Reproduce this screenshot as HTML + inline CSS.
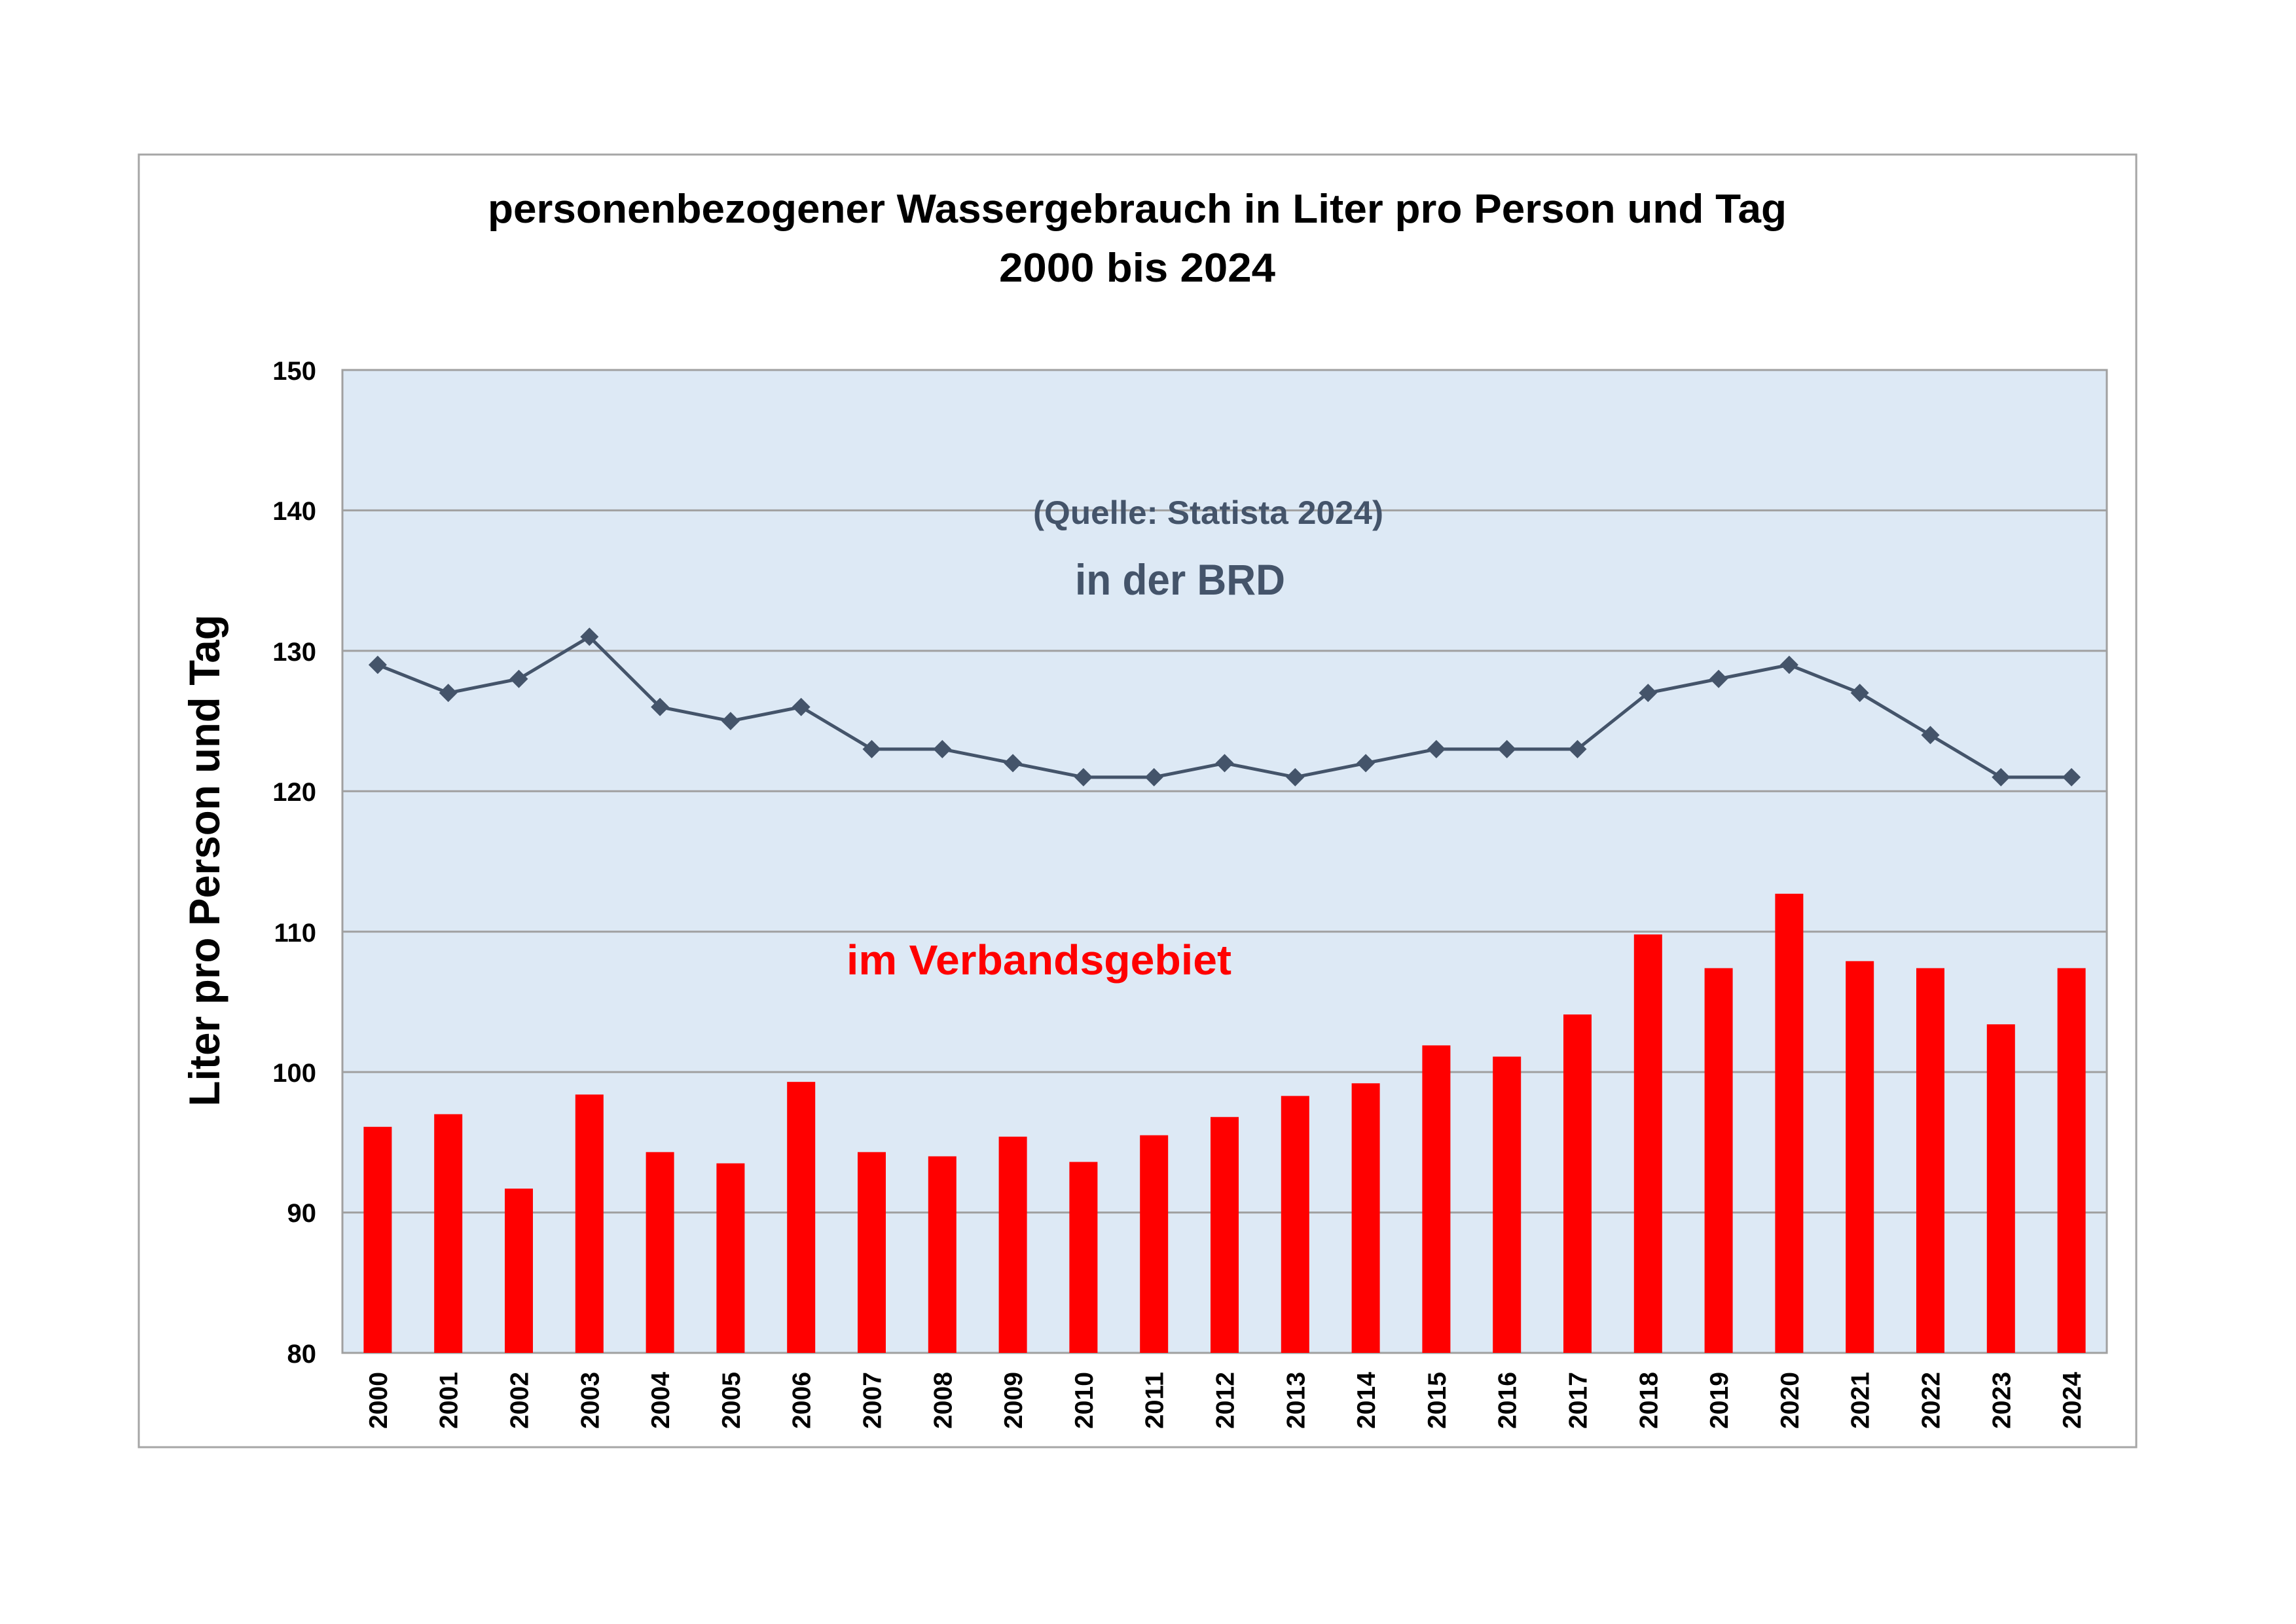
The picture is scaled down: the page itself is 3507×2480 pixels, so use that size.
<!DOCTYPE html>
<html><head><meta charset="utf-8"><style>
html,body{margin:0;padding:0;background:#fff;}
svg{display:block;}
text{font-family:"Liberation Sans",sans-serif;font-weight:bold;}
</style></head><body>
<svg width="3507" height="2480" viewBox="0 0 3507 2480" xmlns="http://www.w3.org/2000/svg">
<rect x="212" y="236" width="3051" height="1974" fill="#fff" stroke="#a6a6a6" stroke-width="3"/>
<text x="1737" y="340" font-size="62" text-anchor="middle" textLength="1984" lengthAdjust="spacingAndGlyphs">personenbezogener Wassergebrauch in Liter pro Person und Tag</text>
<text x="1737" y="430" font-size="62" text-anchor="middle" textLength="422" lengthAdjust="spacingAndGlyphs">2000 bis 2024</text>
<rect x="523" y="565" width="2695" height="1501" fill="#dde9f5" stroke="#a0a0a0" stroke-width="3"/>
<g stroke="#a0a0a0" stroke-width="3">
<line x1="523" x2="3218" y1="1851.6" y2="1851.6"/>
<line x1="523" x2="3218" y1="1637.1" y2="1637.1"/>
<line x1="523" x2="3218" y1="1422.7" y2="1422.7"/>
<line x1="523" x2="3218" y1="1208.3" y2="1208.3"/>
<line x1="523" x2="3218" y1="993.9" y2="993.9"/>
<line x1="523" x2="3218" y1="779.4" y2="779.4"/>
</g>
<g font-size="40" text-anchor="end" fill="#000">
<text x="483" y="580">150</text><text x="483" y="794">140</text><text x="483" y="1009">130</text><text x="483" y="1223">120</text><text x="483" y="1438">110</text><text x="483" y="1652">100</text><text x="483" y="1866">90</text><text x="483" y="2081">80</text>
</g>
<text transform="translate(335,1314) rotate(-90)" font-size="66" text-anchor="middle" textLength="751" lengthAdjust="spacingAndGlyphs">Liter pro Person und Tag</text>
<text x="1578" y="800" font-size="50" fill="#44546a" textLength="535" lengthAdjust="spacingAndGlyphs">(Quelle: Statista 2024)</text>
<text x="1642" y="908" font-size="66" fill="#44546a" textLength="321" lengthAdjust="spacingAndGlyphs">in der BRD</text>
<text x="1293" y="1488" font-size="64" fill="#ff0000" textLength="588" lengthAdjust="spacingAndGlyphs">im Verbandsgebiet</text>
<g id="bars" fill="#ff0000"></g>
<g id="labels" font-size="39" fill="#000"></g>
<polyline id="line" fill="none" stroke="#44546a" stroke-width="5" stroke-linejoin="round"/>
<g id="marks" fill="#44546a"></g>
</svg>
<script>
var bars=[96.1,97.0,91.7,98.4,94.3,93.5,99.3,94.3,94.0,95.4,93.6,95.5,96.8,98.3,99.2,101.9,101.1,104.1,109.8,107.4,112.7,107.9,107.4,103.4,107.4];
var line=[129,127,128,131,126,125,126,123,123,122,121,121,122,121,122,123,123,123,127,128,129,127,124,121,121];
var ns="http://www.w3.org/2000/svg";
function Y(v){return 2066-(v-80)*1501/70;}
function X(i){return 523+(i+0.5)*2695/25;}
var b=document.getElementById('bars'),l=document.getElementById('labels'),m=document.getElementById('marks');
var pts=[];
for(var i=0;i<25;i++){
 var r=document.createElementNS(ns,'rect');
 r.setAttribute('x',X(i)-21.5);r.setAttribute('width',43);
 r.setAttribute('y',Y(bars[i]));r.setAttribute('height',2066-Y(bars[i]));
 b.appendChild(r);
 var t=document.createElementNS(ns,'text');
 t.setAttribute('transform','translate('+(X(i)+14)+',2182) rotate(-90)');
 t.setAttribute('textLength','87');t.setAttribute('lengthAdjust','spacingAndGlyphs');
 t.textContent=String(2000+i);l.appendChild(t);
 var x=X(i),y=Y(line[i]);pts.push(x+','+y);
 var p=document.createElementNS(ns,'polygon');
 p.setAttribute('points',x+','+(y-14)+' '+(x+14)+','+y+' '+x+','+(y+14)+' '+(x-14)+','+y);
 m.appendChild(p);
}
document.getElementById('line').setAttribute('points',pts.join(' '));
</script>
</body></html>
